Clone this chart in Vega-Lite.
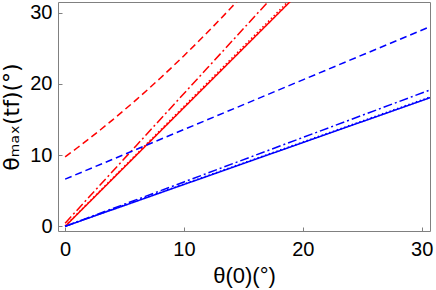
{
  "$schema": "https://vega.github.io/schema/vega-lite/v6.json",
  "width": 372,
  "height": 229,
  "autosize": {"type": "none"},
  "padding": {"left": 58, "top": 2, "right": 6, "bottom": 59},
  "background": "white",
  "config": {
    "view": {"stroke": "#808080", "strokeWidth": 1},
    "font": "Liberation Sans"
  },
  "data": {
    "values": [
      {"x": 0, "y": 9.76, "s": "r1", "c": "red", "d": "dashed"},
      {"x": 1, "y": 11.0, "s": "r1", "c": "red", "d": "dashed"},
      {"x": 2, "y": 12.28, "s": "r1", "c": "red", "d": "dashed"},
      {"x": 3, "y": 13.6, "s": "r1", "c": "red", "d": "dashed"},
      {"x": 4, "y": 14.96, "s": "r1", "c": "red", "d": "dashed"},
      {"x": 5, "y": 16.36, "s": "r1", "c": "red", "d": "dashed"},
      {"x": 6, "y": 17.8, "s": "r1", "c": "red", "d": "dashed"},
      {"x": 7, "y": 19.28, "s": "r1", "c": "red", "d": "dashed"},
      {"x": 8, "y": 20.8, "s": "r1", "c": "red", "d": "dashed"},
      {"x": 9, "y": 22.36, "s": "r1", "c": "red", "d": "dashed"},
      {"x": 10, "y": 23.96, "s": "r1", "c": "red", "d": "dashed"},
      {"x": 11, "y": 25.6, "s": "r1", "c": "red", "d": "dashed"},
      {"x": 12, "y": 27.28, "s": "r1", "c": "red", "d": "dashed"},
      {"x": 13, "y": 29.0, "s": "r1", "c": "red", "d": "dashed"},
      {"x": 14, "y": 30.76, "s": "r1", "c": "red", "d": "dashed"},
      {"x": 15, "y": 32.56, "s": "r1", "c": "red", "d": "dashed"},
      {"x": 0, "y": 0.45, "s": "r2", "c": "red", "d": "dashdot"},
      {"x": 6, "y": 11.37, "s": "r2", "c": "red", "d": "dashdot"},
      {"x": 12, "y": 22.29, "s": "r2", "c": "red", "d": "dashdot"},
      {"x": 18, "y": 33.21, "s": "r2", "c": "red", "d": "dashdot"},
      {"x": 0, "y": 0, "s": "r3", "c": "red", "d": "solid"},
      {"x": 10, "y": 16.67, "s": "r3", "c": "red", "d": "solid"},
      {"x": 20, "y": 33.33, "s": "r3", "c": "red", "d": "solid"},
      {"x": 0, "y": 0.05, "s": "r4", "c": "red", "d": "dotted"},
      {"x": 10, "y": 16.85, "s": "r4", "c": "red", "d": "dotted"},
      {"x": 20, "y": 33.65, "s": "r4", "c": "red", "d": "dotted"},
      {"x": 0, "y": 6.63, "s": "b1", "c": "blue", "d": "dashed"},
      {"x": 10, "y": 13.6, "s": "b1", "c": "blue", "d": "dashed"},
      {"x": 20, "y": 20.57, "s": "b1", "c": "blue", "d": "dashed"},
      {"x": 31, "y": 28.24, "s": "b1", "c": "blue", "d": "dashed"},
      {"x": 0, "y": 0, "s": "b2", "c": "blue", "d": "dashdot"},
      {"x": 10, "y": 6.24, "s": "b2", "c": "blue", "d": "dashdot"},
      {"x": 20, "y": 12.48, "s": "b2", "c": "blue", "d": "dashdot"},
      {"x": 31, "y": 19.34, "s": "b2", "c": "blue", "d": "dashdot"},
      {"x": 0, "y": 0, "s": "b3", "c": "blue", "d": "solid"},
      {"x": 10, "y": 5.88, "s": "b3", "c": "blue", "d": "solid"},
      {"x": 20, "y": 11.76, "s": "b3", "c": "blue", "d": "solid"},
      {"x": 31, "y": 18.23, "s": "b3", "c": "blue", "d": "solid"},
      {"x": 0, "y": 0.05, "s": "b4", "c": "blue", "d": "dotted"},
      {"x": 10, "y": 5.95, "s": "b4", "c": "blue", "d": "dotted"},
      {"x": 20, "y": 11.85, "s": "b4", "c": "blue", "d": "dotted"},
      {"x": 31, "y": 18.34, "s": "b4", "c": "blue", "d": "dotted"}
    ]
  },
  "mark": {"type": "line", "clip": true, "strokeWidth": 1.5},
  "encoding": {
    "x": {
      "field": "x", "type": "quantitative",
      "scale": {"domain": [-0.6, 30.7], "nice": false, "zero": false},
      "axis": {
        "values": [0, 10, 20, 30], "grid": false, "domain": false,
        "tickSize": -4, "tickColor": "#808080", "labelPadding": 12,
        "labelFontSize": 20, "labelColor": "black", "labelFont": "Liberation Sans",
        "title": "θ(0)(°)", "titleFontSize": 22, "titleFontWeight": "normal",
        "titleColor": "black", "titleFont": "Liberation Sans", "titlePadding": 6
      }
    },
    "y": {
      "field": "y", "type": "quantitative",
      "scale": {"domain": [-0.65, 31.5], "nice": false, "zero": false},
      "axis": {
        "values": [0, 10, 20, 30], "grid": false, "domain": false,
        "tickSize": -4, "tickColor": "#808080", "labelPadding": 10,
        "labelFontSize": 20, "labelColor": "black", "labelFont": "Liberation Sans",
        "title": "θₘₐₓ(tf)(°)", "titleFontSize": 22, "titleFontWeight": "normal",
        "titleColor": "black", "titleFont": "DejaVu Sans", "titlePadding": 6
      }
    },
    "color": {
      "field": "c", "type": "nominal",
      "scale": {"domain": ["red", "blue"], "range": ["#ff0000", "#0000ff"]},
      "legend": null
    },
    "strokeDash": {
      "field": "d", "type": "nominal",
      "scale": {"domain": ["solid", "dashed", "dashdot", "dotted"], "range": [[1, 0], [7, 4], [9, 3, 2, 3], [1.5, 2.5]]},
      "legend": null
    },
    "detail": {"field": "s", "type": "nominal"}
  }
}
